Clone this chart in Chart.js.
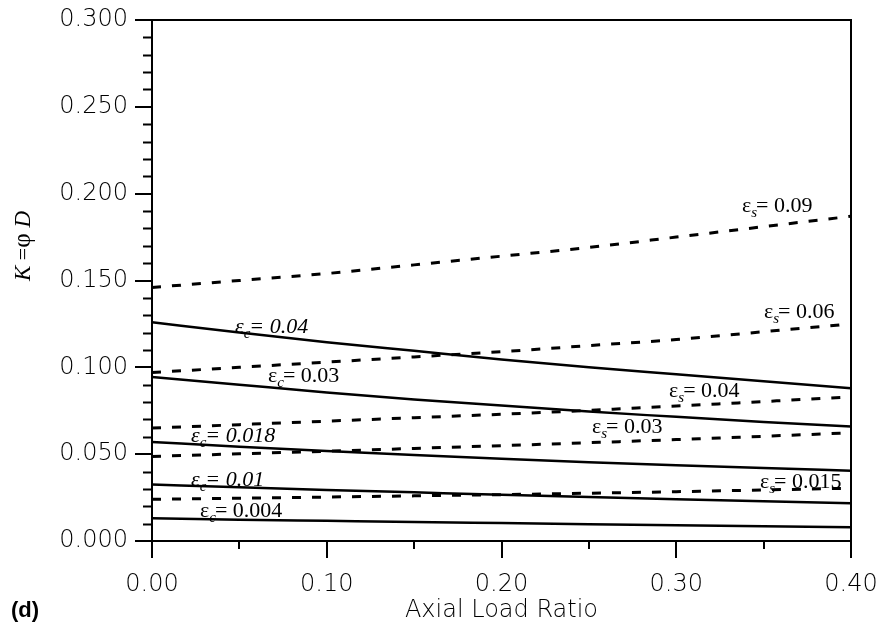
<!DOCTYPE html>
<html>
<head>
<meta charset="utf-8">
<script src="https://cdn.jsdelivr.net/npm/chart.js@4"></script>
<style>html,body{margin:0;padding:0;background:#fff}</style>
</head>
<body>
<div style="width:880px;height:630px"><canvas id="kChart" width="880" height="630"></canvas></div>
<script>
// x values (axial load ratio)
const axialLoad = [0, 0.05, 0.10, 0.15, 0.20, 0.25, 0.30, 0.35, 0.40];

// steel strain limits (dashed)
const es090 = [0.146, 0.150, 0.154, 0.159, 0.164, 0.169, 0.175, 0.181, 0.187];
const es060 = [0.097, 0.100, 0.103, 0.106, 0.109, 0.1125, 0.116, 0.1205, 0.125];
const es040 = [0.065, 0.067, 0.069, 0.071, 0.073, 0.0752, 0.0777, 0.0803, 0.083];
const es030 = [0.0487, 0.0502, 0.0517, 0.0533, 0.0549, 0.0566, 0.0584, 0.0603, 0.0623];
const es015 = [0.024, 0.0246, 0.0253, 0.026, 0.0267, 0.0275, 0.0284, 0.0294, 0.0304];

// concrete strain limits (solid)
const ec040 = [0.126, 0.120, 0.1145, 0.1095, 0.1045, 0.100, 0.096, 0.092, 0.088];
const ec030 = [0.0945, 0.090, 0.0855, 0.0815, 0.078, 0.0745, 0.0715, 0.0685, 0.066];
const ec018 = [0.057, 0.0543, 0.0518, 0.0495, 0.0473, 0.0453, 0.0436, 0.042, 0.0405];
const ec010 = [0.0325, 0.0309, 0.0294, 0.028, 0.0266, 0.0253, 0.0241, 0.0229, 0.0217];
const ec004 = [0.0131, 0.0123, 0.0116, 0.0109, 0.0103, 0.0097, 0.0091, 0.0085, 0.0079];

// curve labels: strain type, value, anchor in data units
const curveLabels = [
  { sub: 's', val: '0.09',  x: 0.3376, y: 0.1894, italic: false },
  { sub: 's', val: '0.06',  x: 0.3502, y: 0.1284, italic: false },
  { sub: 'c', val: '0.04',  x: 0.0475, y: 0.1197, italic: true },
  { sub: 'c', val: '0.03',  x: 0.0664, y: 0.0915, italic: false },
  { sub: 's', val: '0.04',  x: 0.2959, y: 0.0829, italic: false },
  { sub: 's', val: '0.03',  x: 0.2518, y: 0.0622, italic: false },
  { sub: 'c', val: '0.018', x: 0.0223, y: 0.0570, italic: true },
  { sub: 'c', val: '0.01',  x: 0.0223, y: 0.0317, italic: true },
  { sub: 's', val: '0.015', x: 0.3479, y: 0.0305, italic: false },
  { sub: 'c', val: '0.004', x: 0.0275, y: 0.0138, italic: false }
];

const toPts = arr => arr.map((v, i) => ({ x: axialLoad[i], y: v }));

const dashed = (label, data) => ({
  label, data: toPts(data), borderColor: '#000', borderWidth: 3,
  borderDash: [9, 11], pointRadius: 0, cubicInterpolationMode: 'monotone', fill: false
});
const solid = (label, data) => ({
  label, data: toPts(data), borderColor: '#000', borderWidth: 2.5,
  pointRadius: 0, cubicInterpolationMode: 'monotone', fill: false
});

const serif = '"Liberation Serif", "DejaVu Serif", serif';

const extrasPlugin = {
  id: 'extras',
  afterDraw(chart) {
    const ctx = chart.ctx;
    const { left, right, top, bottom } = chart.chartArea;
    const xs = chart.scales.x, ys = chart.scales.y;
    ctx.save();
    ctx.strokeStyle = '#000';
    ctx.fillStyle = '#000';

    // top and right frame
    ctx.lineWidth = 2;
    ctx.beginPath();
    ctx.moveTo(left, top);
    ctx.lineTo(right, top);
    ctx.lineTo(right, bottom + 17);
    ctx.stroke();

    // minor ticks
    ctx.beginPath();
    for (let i = 1; i < 30; i++) {
      if (i % 5 === 0) continue;
      const py = Math.round(ys.getPixelForValue(i / 100)) + 0.5;
      ctx.moveTo(left - 9, py);
      ctx.lineTo(left, py);
    }
    for (let i = 1; i < 8; i += 2) {
      const px = Math.round(xs.getPixelForValue(i * 0.05));
      ctx.moveTo(px, bottom);
      ctx.lineTo(px, bottom + 8);
    }
    ctx.stroke();

    // curve labels
    ctx.textBaseline = 'alphabetic';
    curveLabels.forEach(l => {
      const style = l.italic ? 'italic ' : '';
      let px = xs.getPixelForValue(l.x);
      const py = ys.getPixelForValue(l.y);
      ctx.font = style + '22px ' + serif;
      ctx.fillText('\u03b5', px, py);
      px += ctx.measureText('\u03b5').width;
      ctx.font = 'italic 15px ' + serif;
      ctx.fillText(l.sub, px, py + 5);
      px += ctx.measureText(l.sub).width - 1;
      ctx.font = style + '22px ' + serif;
      ctx.fillText('= ' + l.val, px, py);
    });

    // y axis title
    ctx.save();
    ctx.translate(30, 246);
    ctx.rotate(-Math.PI / 2);
    ctx.textBaseline = 'alphabetic';
    const parts = [
      ['K', 'italic 23px ' + serif],
      [' =', '22px ' + serif],
      ['\u03c6', '25px ' + serif],
      [' D', 'italic 23px ' + serif]
    ];
    let total = 0;
    parts.forEach(p => { ctx.font = p[1]; total += ctx.measureText(p[0]).width; });
    let tx = -total / 2;
    parts.forEach(p => { ctx.font = p[1]; ctx.fillText(p[0], tx, 0); tx += ctx.measureText(p[0]).width; });
    ctx.restore();

    // panel tag
    ctx.font = 'bold 22px "Liberation Sans", Arial, sans-serif';
    ctx.fillText('(d)', 11, 617);
    ctx.restore();
  }
};

const ctx = document.getElementById('kChart').getContext('2d');
const kChart = new Chart(ctx, {
  type: 'line',
  data: {
    datasets: [
      dashed('es=0.09', es090),
      dashed('es=0.06', es060),
      dashed('es=0.04', es040),
      dashed('es=0.03', es030),
      dashed('es=0.015', es015),
      solid('ec=0.04', ec040),
      solid('ec=0.03', ec030),
      solid('ec=0.018', ec018),
      solid('ec=0.01', ec010),
      solid('ec=0.004', ec004)
    ]
  },
  options: {
    responsive: false,
    animation: false,
    devicePixelRatio: 1,
    layout: { padding: { left: 0, right: 29, top: 20, bottom: 0 } },
    plugins: { legend: { display: false }, tooltip: { enabled: false } },
    scales: {
      x: {
        type: 'linear', min: 0, max: 0.4,
        afterFit: s => { s.height = 89; s.paddingLeft = 0; s.paddingRight = 0; },
        ticks: {
          stepSize: 0.1, color: '#000', padding: 12,
          font: { family: '"DejaVu Sans"', size: 24, weight: '300' },
          callback: v => v.toFixed(2), maxRotation: 0
        },
        grid: { drawOnChartArea: false, tickLength: 17, color: '#000', lineWidth: 2 },
        border: { color: '#000', width: 2 },
        title: {
          display: true, text: 'Axial Load Ratio', color: '#000',
          font: { family: '"DejaVu Sans"', size: 24, weight: '300' },
          padding: { top: 0, bottom: 5 }
        }
      },
      y: {
        type: 'linear', min: 0, max: 0.3,
        afterFit: s => { s.width = 152; s.paddingTop = 0; s.paddingBottom = 0; },
        ticks: {
          stepSize: 0.05, color: '#000', padding: 7,
          font: { family: '"DejaVu Sans"', size: 24, weight: '300' },
          callback: v => v.toFixed(3)
        },
        grid: { drawOnChartArea: false, tickLength: 17, color: '#000', lineWidth: 2 },
        border: { color: '#000', width: 2 }
      }
    }
  },
  plugins: [extrasPlugin]
});
</script>
</body>
</html>
